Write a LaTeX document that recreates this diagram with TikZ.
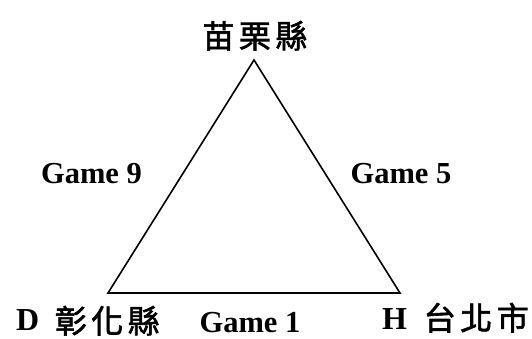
\documentclass[tikz,border=0pt]{standalone}
\usepackage{fontspec}
\setmainfont{Liberation Serif}
\newfontfamily\cjk[FakeBold=2]{Noto Sans CJK TC}
\usetikzlibrary{positioning}
\newcommand*\gap{\hspace{0.14em}}

\begin{document}
\begin{tikzpicture}[x=1pt,y=-1pt,
	game/.style={font=\fontsize{30.5}{30.5}\selectfont\bfseries,inner sep=0pt,anchor=base},
	city/.style={font=\fontsize{32}{32}\selectfont\cjk,inner sep=0pt,anchor=base},
	letter/.style={font=\fontsize{32}{32}\selectfont\rmfamily\bfseries,inner sep=0pt,anchor=base west},
	side/.style={line width=1.6pt,line join=miter}]
	\useasboundingbox (0,0) rectangle (532,339);
	% corners of the triangle
	\coordinate (miaoli) at (254,60);
	\coordinate (changhua) at (108,293);
	\coordinate (taipei) at (400,293);
	\draw[side] (miaoli) -- (changhua) -- (taipei) -- cycle;
	% teams
	\node[city] (top) at (255,48) {苗\gap 栗\gap 縣};
	\node[letter] (dlet) at (16,330) {D};
	\node[city,anchor=base east] (left) at (160,333) {彰\gap 化\gap 縣};
	\node[letter] (hlet) at (382,329) {H};
	\node[city,anchor=base east] (right) at (529,330) {台\gap 北\gap 市};
	% games
	\node[game] (g9) at (91.5,183) {Game 9};
	\node[game] (g5) at (401,183) {Game 5};
	\node[game] (g1) at (250,332) {Game 1};
\end{tikzpicture}
\end{document}
